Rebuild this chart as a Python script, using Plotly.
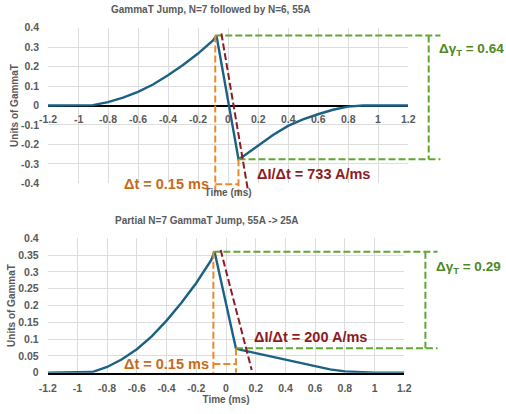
import plotly.graph_objects as go

# ---------------- data ----------------
t_top = [-1.2, -1.0, -0.9, -0.8, -0.7, -0.6, -0.5, -0.4, -0.3, -0.2, -0.1, -0.077,
         0.07, 0.1, 0.2, 0.3, 0.4, 0.5, 0.6, 0.7, 0.8, 0.9, 1.0, 1.2]
g_top = [0, 0, 0.002, 0.017, 0.04, 0.07, 0.108, 0.155, 0.208, 0.267, 0.335, 0.36,
         -0.276, -0.262, -0.205, -0.152, -0.105, -0.071, -0.045, -0.022, -0.006, 0, 0, 0]

t_bot = [-1.2, -1.0, -0.9, -0.8, -0.7, -0.6, -0.5, -0.4, -0.3, -0.2, -0.1, -0.077,
         0.067, 0.1, 0.2, 0.3, 0.4, 0.5, 0.6, 0.7, 0.8, 0.9, 1.0, 1.2]
g_bot = [0, 0, 0.002, 0.017, 0.04, 0.07, 0.108, 0.155, 0.208, 0.267, 0.335, 0.36,
         0.072, 0.068, 0.058, 0.048, 0.039, 0.028, 0.019, 0.01, 0.004, 0.001, 0, 0]

x_ticks = [-1.2, -1, -0.8, -0.6, -0.4, -0.2, 0, 0.2, 0.4, 0.6, 0.8, 1, 1.2]
x_ticktext = ["-1.2", "-1", "-0.8", "-0.6", "-0.4", "-0.2", "0", "0.2", "0.4", "0.6", "0.8", "1", "1.2"]
y_top_ticks = [-0.4, -0.3, -0.2, -0.1, 0, 0.1, 0.2, 0.3, 0.4]
y_top_text = ["-0.4", "-0.3", "-0.2", "-0.1", "0", "0.1", "0.2", "0.3", "0.4"]
y_bot_ticks = [0, 0.05, 0.1, 0.15, 0.2, 0.25, 0.3, 0.35, 0.4]
y_bot_text = ["0", "0.05", "0.1", "0.15", "0.2", "0.25", "0.3", "0.35", "0.4"]

# annotation geometry (data units)
top_peak_t, top_peak_g = -0.085, 0.36
top_low_t, top_low_g = 0.07, -0.276
top_box_x, top_box_end = 1.338, 1.416
top_dt_y, top_orange_bottom = -0.405, -0.461
top_red = [(-0.044, 0.37), (0.133, -0.436)]

bot_peak_t, bot_peak_g = -0.085, 0.36
bot_low_t, bot_low_g = 0.067, 0.0727
bot_box_x, bot_box_end = 1.342, 1.424
bot_dt_y = 0.026
bot_red = [(-0.036, 0.365), (0.173, 0.008)]

labels_top = {"dg": "Δγ<sub>T</sub> = 0.64", "dt": "Δt = 0.15 ms", "di": "ΔI/Δt = 733 A/ms"}
labels_bot = {"dg": "Δγ<sub>T</sub> = 0.29", "dt": "Δt = 0.15 ms", "di": "ΔI/Δt = 200 A/ms"}

XR = [-1.2, 1.2]
YR_TOP = [-0.4, 0.4]
YR_BOT = [0, 0.4]

BLUE = "#1A6185"
GREEN = "#62A632"
GREEN_T = "#4E8A24"
ORANGE = "#EA8A2B"
ORANGE_T = "#C96A18"
RED = "#8E1B22"
GRAY = "#595959"
GRID = "#DDDDDD"
FONT = "Liberation Sans, Arial, sans-serif"
DASH = "7px,3px"

fig = go.Figure()
fig.add_trace(go.Scatter(x=t_top, y=g_top, mode="lines", line=dict(color=BLUE, width=2.4),
                         xaxis="x", yaxis="y", showlegend=False, hoverinfo="skip"))
fig.add_trace(go.Scatter(x=t_bot, y=g_bot, mode="lines", line=dict(color=BLUE, width=2.4),
                         xaxis="x2", yaxis="y2", showlegend=False, hoverinfo="skip"))


def fx(v):
    return (v - XR[0]) / (XR[1] - XR[0])


def fy(v, rng):
    return (v - rng[0]) / (rng[1] - rng[0])


shapes = []


def seg(ax, x0, y0, x1, y1, rng, color, w=2):
    shapes.append(dict(type="line", xref=f"{ax[0]} domain", yref=f"{ax[1]} domain",
                       x0=fx(x0), x1=fx(x1), y0=fy(y0, rng), y1=fy(y1, rng),
                       line=dict(color=color, width=w, dash=DASH)))


for ax, rng, pk_t, pk_g, lo_t, lo_g, bx, be, dty, ob, red in [
    (("x", "y"), YR_TOP, top_peak_t, top_peak_g, top_low_t, top_low_g, top_box_x, top_box_end,
     top_dt_y, top_orange_bottom, top_red),
    (("x2", "y2"), YR_BOT, bot_peak_t, bot_peak_g, bot_low_t, bot_low_g, bot_box_x, bot_box_end,
     bot_dt_y, 0, bot_red),
]:
    # green box
    seg(ax, pk_t, pk_g, be, pk_g, rng, GREEN)
    seg(ax, lo_t, lo_g, be, lo_g, rng, GREEN)
    seg(ax, bx, pk_g, bx, lo_g, rng, GREEN)
    # orange
    seg(ax, pk_t, pk_g, pk_t, ob, rng, ORANGE)
    seg(ax, lo_t, lo_g, lo_t, ob, rng, ORANGE)
    seg(ax, pk_t, dty, lo_t, dty, rng, ORANGE)
    # red slope
    seg(ax, red[0][0], red[0][1], red[1][0], red[1][1], rng, RED)

annotations = []
tick_font = dict(family=FONT, size=10.5, color=GRAY, weight="bold")
# top x tick labels at zero line
for v, txt in zip(x_ticks, x_ticktext):
    annotations.append(dict(x=v, y=0, xref="x", yref="y", text=txt, showarrow=False,
                            yshift=-13, font=tick_font))


def lab(ax, rng, x, y, text, color, anchor, size=14.5):
    annotations.append(dict(x=fx(x), y=fy(y, rng), xref=f"{ax[0]} domain", yref=f"{ax[1]} domain",
                            text=text, showarrow=False, xanchor=anchor, yanchor="middle",
                            font=dict(family=FONT, size=size, color=color, weight="bold")))


lab(("x", "y"), YR_TOP, 1.39, 0.29, labels_top["dg"], GREEN_T, "left", 13.5)
lab(("x", "y"), YR_TOP, -0.11, top_dt_y, labels_top["dt"], ORANGE_T, "right")
lab(("x", "y"), YR_TOP, 0.18, -0.35, labels_top["di"], RED, "left")
lab(("x2", "y2"), YR_BOT, 1.398, 0.312, labels_bot["dg"], GREEN_T, "left", 13.5)
lab(("x2", "y2"), YR_BOT, -0.1, bot_dt_y, labels_bot["dt"], ORANGE_T, "right")
lab(("x2", "y2"), YR_BOT, 0.175, 0.106, labels_bot["di"], RED, "left")

# titles
title_font = dict(family=FONT, size=10, color=GRAY, weight="bold")
annotations.append(dict(x=0.417, y=1 - 9.5 / 414, xref="paper", yref="paper", yanchor="middle",
                        text="GammaT Jump, N=7 followed by N=6, 55A", showarrow=False,
                        font=title_font))
annotations.append(dict(x=0.41, y=1 - 220 / 414, xref="paper", yref="paper", yanchor="middle",
                        text="Partial N=7 GammaT Jump, 55A -> 25A", showarrow=False,
                        font=title_font))

titlefont = dict(family=FONT, size=10, color=GRAY, weight="bold")

fig.update_layout(
    width=506, height=414, margin=dict(l=0, r=0, t=0, b=0, autoexpand=False),
    paper_bgcolor="white", plot_bgcolor="white",
    shapes=shapes, annotations=annotations,
    xaxis=dict(domain=[48 / 506, 408 / 506], range=XR, anchor="y", tickvals=x_ticks,
               showticklabels=False, showgrid=True, gridcolor=GRID, zeroline=False,
               showline=False, fixedrange=True, automargin=False,
               title=dict(text="Time (ms)", font=titlefont, standoff=5)),
    yaxis=dict(domain=[1 - 183.3 / 414, 1 - 27.7 / 414], range=YR_TOP, anchor="x",
               tickvals=y_top_ticks, ticktext=y_top_text, tickfont=tick_font,
               showgrid=True, gridcolor=GRID, zeroline=True, zerolinecolor="black",
               zerolinewidth=1.5, ticklabelstandoff=8, automargin=False,
               title=dict(text="Units of GammaT", font=titlefont, standoff=0)),
    xaxis2=dict(domain=[47.7 / 506, 404.3 / 506], range=XR, anchor="y2", tickvals=x_ticks,
                ticktext=x_ticktext, tickfont=tick_font, showgrid=True, gridcolor=GRID,
                zeroline=False, showline=True, linecolor="black", linewidth=1.5,
                ticklabelstandoff=5, automargin=False,
                title=dict(text="Time (ms)", font=titlefont, standoff=3)),
    yaxis2=dict(domain=[1 - 372.7 / 414, 1 - 238.3 / 414], range=YR_BOT, anchor="x2",
                tickvals=y_bot_ticks, ticktext=y_bot_text, tickfont=tick_font,
                showgrid=True, gridcolor=GRID, zeroline=False, ticklabelstandoff=8,
                automargin=False,
                title=dict(text="Units of GammaT", font=titlefont, standoff=0)),
)

fig.write_html("out.html", config={"displayModeBar": False},
               post_script="document.body.style.margin='0';document.body.style.overflow='hidden';")
